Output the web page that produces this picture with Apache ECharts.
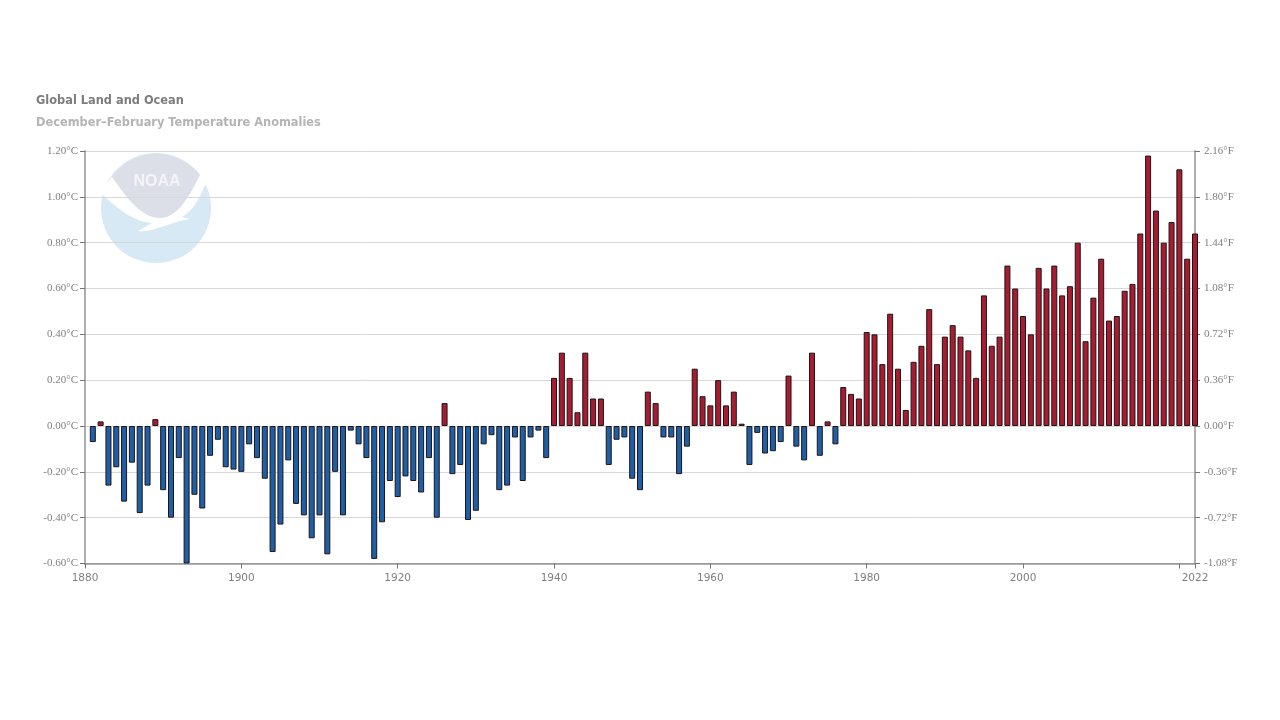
<!DOCTYPE html>
<html>
<head>
<meta charset="utf-8">
<title>Global Land and Ocean</title>
<script src="https://cdn.jsdelivr.net/npm/echarts@6/dist/echarts.min.js"></script>
<style>
	html,body{margin:0;padding:0;background:#fff;}
	#g_canvas{width:1280px;height:720px;}
</style>
</head>
<body>
<div id="g_canvas"></div>
<script>
var titleText = 'Global Land and Ocean';
var subtitleText = 'December–February Temperature Anomalies';
// 年份标签
var yearLabels = [1880, 1900, 1920, 1940, 1960, 1980, 2000, 2022];
var firstYear = 1881;
// 1881-2022
var anomalies = [
	-0.07, 0.02, -0.26, -0.18, -0.33, -0.16, -0.38, -0.26, 0.03,
	-0.28, -0.40, -0.14, -0.60, -0.30, -0.36, -0.13, -0.06, -0.18, -0.19,
	-0.20, -0.08, -0.14, -0.23, -0.55, -0.43, -0.15, -0.34, -0.39, -0.49,
	-0.39, -0.56, -0.20, -0.39, -0.02, -0.08, -0.14, -0.58, -0.42, -0.24,
	-0.31, -0.22, -0.24, -0.29, -0.14, -0.40, 0.10, -0.21, -0.17, -0.41,
	-0.37, -0.08, -0.04, -0.28, -0.26, -0.05, -0.24, -0.05, -0.02, -0.14,
	0.21, 0.32, 0.21, 0.06, 0.32, 0.12, 0.12, -0.17, -0.06, -0.05,
	-0.23, -0.28, 0.15, 0.10, -0.05, -0.05, -0.21, -0.09, 0.25, 0.13,
	0.09, 0.20, 0.09, 0.15, 0.01, -0.17, -0.03, -0.12, -0.11, -0.07,
	0.22, -0.09, -0.15, 0.32, -0.13, 0.02, -0.08, 0.17, 0.14, 0.12,
	0.41, 0.40, 0.27, 0.49, 0.25, 0.07, 0.28, 0.35, 0.51, 0.27,
	0.39, 0.44, 0.39, 0.33, 0.21, 0.57, 0.35, 0.39, 0.70, 0.60,
	0.48, 0.40, 0.69, 0.60, 0.70, 0.57, 0.61, 0.80, 0.37, 0.56,
	0.73, 0.46, 0.48, 0.59, 0.62, 0.84, 1.18, 0.94, 0.80, 0.89,
	1.12, 0.73, 0.84
];

var barData = [];
for(let i=0;i<anomalies.length;i++){
	barData.push([firstYear+i,anomalies[i]]);
}

// 标志的形状
echarts.graphic.registerShape('noaaTop', echarts.graphic.extendPath('M112 177 A55 55 0 0 1 200 175 C190 195 178 218 160 218 C140 218 125 195 112 177 Z'));
echarts.graphic.registerShape('noaaBird', echarts.graphic.extendPath('M100 192 C118 210 135 222 152 223 L138 231 C152 233 170 222 190 219 L182 217 C192 212 200 198 206 183 L200 175 C190 195 178 218 160 218 C140 218 125 195 112 177 Z'));

var axisGrey = 'rgba(120,120,120,0.6)';
var labelGrey = '#808080';

var option = {
	backgroundColor: '#fff',
	animation: false,
	title: [{
		text: titleText,
		left: 31,
		top: 91,
		textStyle: {
			fontFamily: 'DejaVu Sans',
			fontSize: 11.4,
			fontWeight: 'bold',
			color: '#7d7d7d'
		}
	}, {
		text: subtitleText,
		left: 31,
		top: 113,
		textStyle: {
			fontFamily: 'DejaVu Sans',
			fontSize: 11.4,
			fontWeight: 'bold',
			color: '#b4b4b4'
		}
	}],
	// NOAA 标志
	graphic: [{
		type: 'circle',
		z: -1,
		shape: {cx: 156, cy: 208, r: 55},
		style: {fill: '#d7e9f5'}
	}, {
		type: 'noaaTop',
		z: -1,
		style: {fill: '#dcdee8'}
	}, {
		type: 'noaaBird',
		z: -1,
		style: {fill: '#fff'}
	}, {
		type: 'text',
		z: -1,
		x: 157,
		y: 182,
		style: {
			text: 'NOAA',
			fill: '#f4f4f8',
			font: 'bold 16px "Liberation Sans"',
			align: 'center',
			verticalAlign: 'middle'
		}
	}],
	grid: {
		left: 85,
		right: 85,
		top: 151,
		height: 412.5
	},
	xAxis: {
		type: 'value',
		min: 1880,
		max: 2022,
		interval: 20,
		splitLine: {show: false},
		axisLine: {show: true, onZero: false, lineStyle: {color: axisGrey, width: 2}},
		axisTick: {show: true, length: 5, lineStyle: {color: '#777'}},
		axisLabel: {
			color: labelGrey,
			fontFamily: 'DejaVu Sans',
			fontSize: 10.5,
			margin: 9,
			showMaxLabel: true,
			formatter: function(value){
				return yearLabels.indexOf(value)>=0?String(value):'';
			}
		}
	},
	yAxis: [{
		type: 'value',
		position: 'left',
		min: -0.6,
		max: 1.2,
		interval: 0.2,
		splitLine: {show: true, lineStyle: {color: '#d8d8d8', width: 1}},
		axisLine: {show: true, lineStyle: {color: axisGrey, width: 2}},
		axisTick: {show: true, length: 5, lineStyle: {color: '#777'}},
		axisLabel: {
			color: labelGrey,
			fontFamily: 'Liberation Serif',
			fontSize: 11,
			margin: 7,
			formatter: function(value){
				return value.toFixed(2)+'°C';
			}
		}
	}, {
		type: 'value',
		position: 'right',
		min: -1.08,
		max: 2.16,
		interval: 0.36,
		splitLine: {show: false},
		axisLine: {show: true, lineStyle: {color: axisGrey, width: 2}},
		axisTick: {show: true, length: 5, lineStyle: {color: '#777'}},
		axisLabel: {
			color: labelGrey,
			fontFamily: 'Liberation Serif',
			fontSize: 11,
			margin: 9,
			formatter: function(value){
				return value.toFixed(2)+'°F';
			}
		}
	}],
	series: [{
		type: 'bar',
		data: barData,
		barWidth: 6,
		clip: false,
		z: 1,
		itemStyle: {
			borderColor: '#1c1418',
			borderWidth: 1,
			color: function(p){
				return p.value[1]>=0?'#a81c30':'#1f5fa6';
			}
		}
	}]
};
var myChart = echarts.init(document.getElementById('g_canvas'));
myChart.setOption(option);
</script>
</body>
</html>
